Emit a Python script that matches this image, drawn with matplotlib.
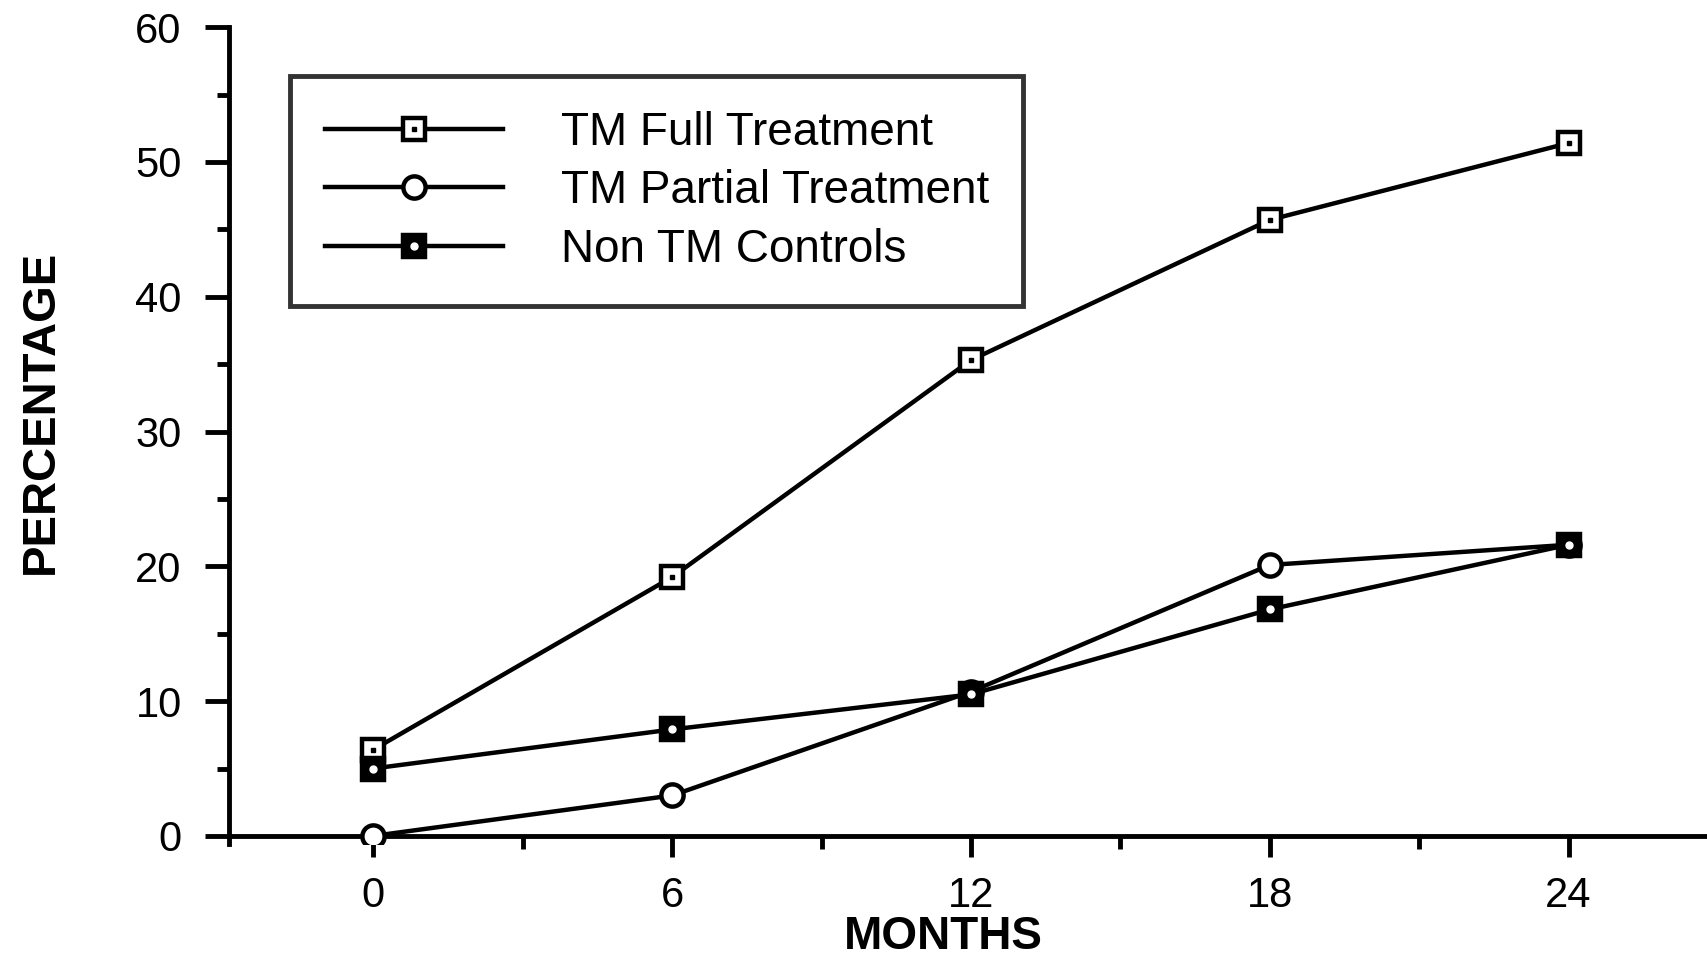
import matplotlib
matplotlib.use("Agg")
import matplotlib.pyplot as plt
from matplotlib.lines import Line2D

plt.rcParams['font.family'] = ['Liberation Sans', 'DejaVu Sans']

months = [0, 6, 12, 18, 24]
full_treatment = [6.4, 19.2, 35.3, 45.7, 51.4]
partial_treatment = [0.0, 3.0, 10.7, 20.1, 21.6]
non_tm_controls = [5.0, 7.9, 10.5, 16.8, 21.6]
series_labels = ["TM Full Treatment", "TM Partial Treatment", "Non TM Controls"]
x_ticks = [0, 6, 12, 18, 24]
y_ticks = [0, 10, 20, 30, 40, 50, 60]

W, H = 1708, 966
fig = plt.figure(figsize=(W / 100, H / 100), dpi=100)
ax = fig.add_axes([0.134, 0.1263, 0.866, 0.8456])
ax.set_xlim(-2.9, 26.8)
ax.set_ylim(-0.6, 60)

LW = 3.2
MS = 16
MEW = 3.2

# TM Full Treatment: open square with centre dot
ax.plot(months, full_treatment, color='black', lw=LW, marker='s', ms=MS,
        mfc='white', mec='black', mew=MEW, zorder=3)
ax.plot(months, full_treatment, ls='none', marker='s', ms=3.5,
        mfc='black', mec='black', zorder=4)

# TM Partial: open circle
ax.plot(months, partial_treatment, color='black', lw=LW, marker='o', ms=MS,
        mfc='white', mec='black', mew=MEW, zorder=3)

# Non TM Controls: filled square with white centre dot
ax.plot(months, non_tm_controls, color='black', lw=LW, marker='s', ms=MS,
        mfc='black', mec='black', mew=MEW, zorder=3)
ax.plot(months, non_tm_controls, ls='none', marker='o', ms=5,
        mfc='white', mec='white', zorder=4)

for s in ['top', 'right']:
    ax.spines[s].set_visible(False)
ax.spines['left'].set_linewidth(3.5)
ax.spines['bottom'].set_linewidth(3.5)
ax.spines['bottom'].set_position(('data', 0))

ax.set_yticks(y_ticks)
ax.set_yticks([5, 15, 25, 35, 45, 55], minor=True)
ax.set_xticks(x_ticks)
ax.set_xticks([3, 9, 15, 21], minor=True)
ax.set_xticklabels([str(v) for v in x_ticks])
ax.set_yticklabels([str(v) for v in y_ticks])
ax.tick_params(axis='y', which='major', direction='out', length=17, width=3.5,
               pad=17, labelsize=30)
ax.tick_params(axis='y', which='minor', direction='out', length=9, width=3.5)
ax.tick_params(axis='x', which='major', direction='out', length=15, width=3.5,
               pad=14, labelsize=30)
ax.tick_params(axis='x', which='minor', direction='out', length=9, width=3.5)

fig.text(0.024, 0.574, "PERCENTAGE", rotation=90, ha='center', va='center',
         fontsize=34, fontweight='bold')
fig.text(0.552, 0.030, "MONTHS", ha='center', va='center',
         fontsize=33, fontweight='bold')

h_full = (Line2D([], [], color='black', lw=LW, marker='s', ms=MS, mfc='white',
                 mec='black', mew=MEW),
          Line2D([], [], ls='none', marker='s', ms=3.5, mfc='black', mec='black'))
h_part = Line2D([], [], color='black', lw=LW, marker='o', ms=MS, mfc='white',
                mec='black', mew=MEW)
h_non = (Line2D([], [], color='black', lw=LW, marker='s', ms=MS, mfc='black',
                mec='black', mew=MEW),
         Line2D([], [], ls='none', marker='o', ms=5, mfc='white', mec='white'))

leg = fig.legend([h_full, h_part, h_non], series_labels,
                 loc='upper left', bbox_to_anchor=(0.170, 0.921),
                 fontsize=33, frameon=True, fancybox=False, edgecolor='black',
                 handlelength=3.9, handletextpad=1.25, labelspacing=0.32,
                 borderpad=0.75, borderaxespad=0.0)
leg.get_frame().set_linewidth(3.5)

fig.savefig("out.png", dpi=100, facecolor='white')
